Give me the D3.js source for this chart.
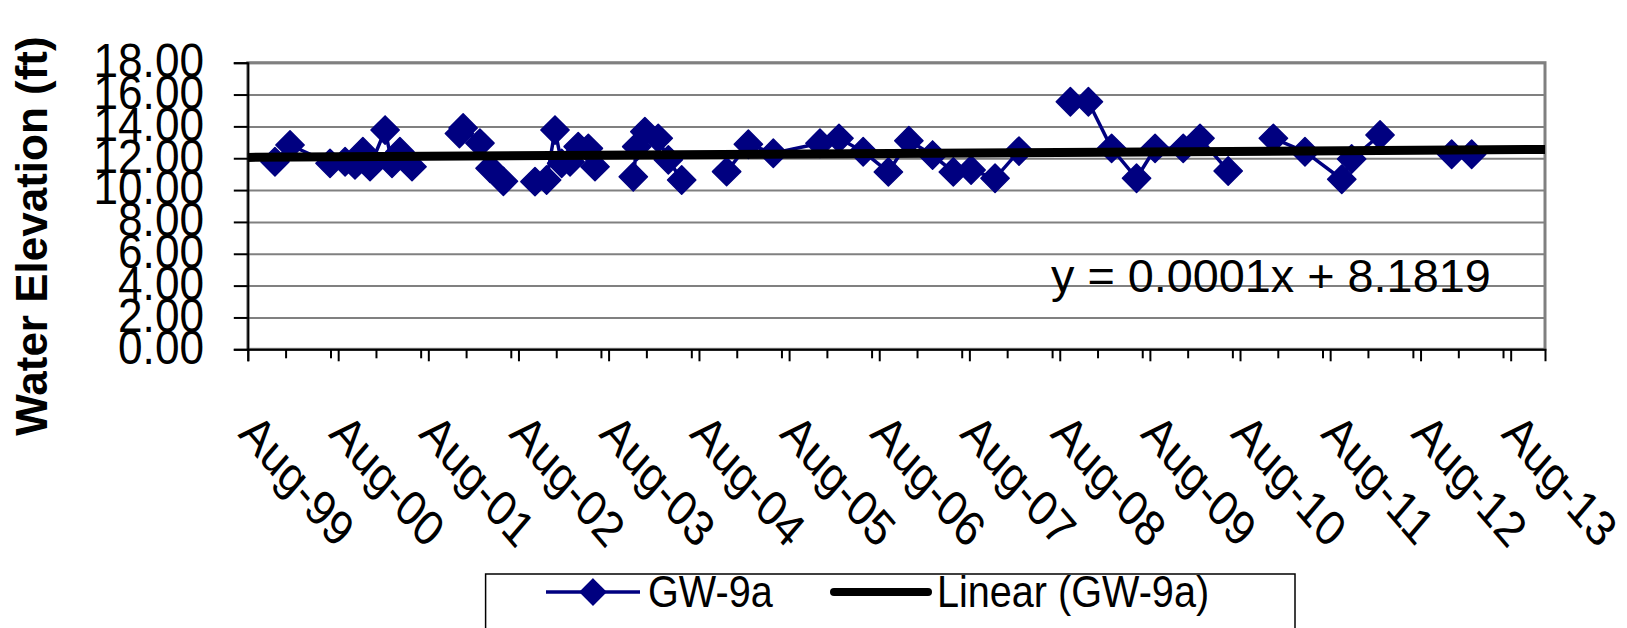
<!DOCTYPE html>
<html><head><meta charset="utf-8">
<script src="https://cdn.jsdelivr.net/npm/d3@7"></script>
<style>
body{margin:0;background:#fff}
svg{display:block}
text{font-family:"Liberation Sans",Arial,sans-serif;fill:#000}
</style>
</head><body>
<svg id="c" width="1627" height="628"></svg>
<script>
// ---------- data ----------
const seriesName = "GW-9a";
const trendName = "Linear (GW-9a)";
const yTitle = "Water Elevation (ft)";
const equationLabel = "y = 0.0001x + 8.1819";

// sample dates (null value = break in the line)
const dates = [
  "1999-11-19","2000-01-19","2000-06-29","2000-08-29","2000-10-08","2000-11-09","2000-12-08",
  "2001-02-07","2001-03-07","2001-04-08","2001-05-27","2001-09-01",
  "2001-12-05","2001-12-20","2002-02-26","2002-04-08","2002-06-01","2002-08-01",
  "2002-10-07","2002-11-23","2002-12-27","2003-01-23","2003-02-26","2003-03-31","2003-05-11","2003-06-07","2003-09-01",
  "2003-11-09","2003-11-23","2003-12-26","2004-02-18","2004-03-30","2004-05-23","2004-08-01",
  "2004-11-21","2005-02-17","2005-05-29","2005-12-04","2006-02-19","2006-05-28","2006-09-07",
  "2006-11-29","2007-03-05","2007-05-28","2007-08-08","2007-11-13","2008-02-18","2008-06-01",
  "2008-09-13","2008-11-25","2009-02-27","2009-06-08","2009-08-22","2009-12-14","2010-02-20","2010-06-14","2010-09-01",
  "2010-12-14","2011-04-21","2011-09-17","2011-10-27","2012-02-19","2012-07-01",
  "2012-12-05","2013-02-24"
];
const values = [
  11.78,12.83,11.68,11.78,11.58,12.41,11.47,
  13.77,11.68,12.41,11.47,null,
  13.55,13.90,12.95,11.37,10.55,null,
  10.53,10.63,13.77,11.68,11.78,12.73,12.62,11.47,null,
  10.84,12.73,13.67,13.25,11.90,10.63,null,
  11.16,12.88,12.31,12.94,13.25,12.41,11.14,
  13.10,12.20,11.14,11.26,10.74,12.45,null,
  15.55,15.55,12.62,10.74,12.62,12.62,13.25,11.20,null,
  13.25,12.41,10.68,11.95,13.46,null,
  12.25,12.25
];

const yTicks = [0,2,4,6,8,10,12,14,16,18];
const xTickDates = ["1999-08-01","2000-08-01","2001-08-01","2002-08-01","2003-08-01","2004-08-01","2005-08-01",
  "2006-08-01","2007-08-01","2008-08-01","2009-08-01","2010-08-01","2011-08-01","2012-08-01","2013-08-01"];
const xTickLabels = ["Aug-99","Aug-00","Aug-01","Aug-02","Aug-03","Aug-04","Aug-05",
  "Aug-06","Aug-07","Aug-08","Aug-09","Aug-10","Aug-11","Aug-12","Aug-13"];
const xDomain = ["1999-08-01","2013-12-18"];
const yDomain = [0,18];

// ---------- layout ----------
const P = {left:247.8, right:1545, top:62.7, bottom:349.3};
const navy = "#000080", gray = "#808080";
const parse = d3.utcParse("%Y-%m-%d");

const svg = d3.select("#c");
const x = d3.scaleUtc().domain(xDomain.map(parse)).range([P.left, P.right]);
const y = d3.scaleLinear().domain(yDomain).range([P.bottom, P.top]);

const pts = dates.map((d,i)=>({d:parse(d), v:values[i]}));
const valid = pts.filter(p=>p.v!=null);

// gridlines
svg.append("g").attr("transform",`translate(${P.left},0)`)
  .call(d3.axisLeft(y).tickValues(yTicks).tickSize(-(P.right-P.left)).tickFormat(""))
  .call(g=>g.select(".domain").remove())
  .call(g=>g.selectAll("line").attr("stroke",gray).attr("stroke-width",2));

// plot border
svg.append("rect").attr("x",P.left).attr("y",P.top).attr("width",P.right-P.left).attr("height",P.bottom-P.top)
  .attr("fill","none").attr("stroke",gray).attr("stroke-width",3);

// y axis
const ya = svg.append("g").attr("transform",`translate(${P.left},0)`)
  .call(d3.axisLeft(y).tickValues(yTicks).tickSize(14).tickPadding(0).tickFormat(d3.format(".2f")));
ya.select(".domain").attr("stroke","#000").attr("stroke-width",2);
ya.selectAll(".tick line").attr("stroke","#000").attr("stroke-width",2);
ya.selectAll(".tick text").attr("x",null).attr("dy","0.35em").attr("text-anchor","end")
  .attr("font-size",48).attr("transform","translate(-43.8,-3) scale(0.92,1)");

// x axis minor ticks
const minor = d3.utcMonth.every(6).range(parse("1999-08-01"), parse("2013-12-18"));
svg.append("g").attr("transform",`translate(0,${P.bottom})`)
  .call(d3.axisBottom(x).tickValues(minor).tickSize(9).tickFormat(""))
  .call(g=>g.select(".domain").remove())
  .call(g=>g.selectAll("line").attr("stroke","#000").attr("stroke-width",2));
// x axis major
const xa = svg.append("g").attr("transform",`translate(0,${P.bottom})`)
  .call(d3.axisBottom(x).tickValues(xTickDates.map(parse)).tickSize(12).tickFormat((d,i)=>xTickLabels[i]));
xa.select(".domain").attr("stroke","#000").attr("stroke-width",2);
xa.selectAll(".tick text").attr("y",null).attr("dy",null).attr("text-anchor","start")
  .attr("font-size",46).attr("transform","translate(-11,86) scale(0.94,1.095) rotate(45)");
xa.selectAll(".tick line").attr("stroke","#000").attr("stroke-width",2);

// y title
svg.append("text").attr("transform","translate(47,236) rotate(-90)")
  .attr("text-anchor","middle").attr("font-size",44).attr("font-weight","bold").text(yTitle);

// series line
const line = d3.line().defined(p=>p.v!=null).x(p=>x(p.d)).y(p=>y(p.v));
svg.append("path").datum(pts).attr("d",line).attr("fill","none").attr("stroke",navy).attr("stroke-width",3.5);

// markers
const diamond = d3.symbol().type(d3.symbolDiamond2).size(510);
svg.append("g").selectAll("path").data(valid).join("path")
  .attr("d",diamond).attr("transform",p=>`translate(${x(p.d)},${y(p.v)})`)
  .attr("fill",navy).attr("stroke",navy).attr("stroke-width",1.5).attr("stroke-linejoin","round");

// linear trend (least squares on data)
const xs = valid.map(p=>+p.d), vs = valid.map(p=>p.v);
const mx = d3.mean(xs), mv = d3.mean(vs);
const slope = d3.sum(xs.map((t,i)=>(t-mx)*(vs[i]-mv))) / d3.sum(xs.map(t=>(t-mx)*(t-mx)));
const icpt = mv - slope*mx;
const [d0,d1] = x.domain();
svg.append("line").attr("x1",x(d0)).attr("x2",x(d1))
  .attr("y1",y(icpt+slope*(+d0))).attr("y2",y(icpt+slope*(+d1)))
  .attr("stroke","#000").attr("stroke-width",9);

// equation
svg.append("text").attr("transform","translate(1051,291.5)")
  .attr("font-size",46.8).text(equationLabel);

// legend
const lg = svg.append("g");
lg.append("rect").attr("x",485.6).attr("y",574).attr("width",1295-485.6).attr("height",80)
  .attr("fill","#fff").attr("stroke","#000").attr("stroke-width",1.5);
lg.append("line").attr("x1",546).attr("x2",640).attr("y1",592).attr("y2",592).attr("stroke",navy).attr("stroke-width",3.5);
lg.append("path").attr("d",d3.symbol().type(d3.symbolDiamond2).size(420)).attr("transform","translate(593,592)")
  .attr("fill",navy).attr("stroke",navy).attr("stroke-width",1.5);
lg.append("text").attr("transform","translate(648,607) scale(0.88,1)").attr("font-size",45).text(seriesName);
lg.append("line").attr("x1",834).attr("x2",928).attr("y1",592).attr("y2",592).attr("stroke","#000")
  .attr("stroke-width",8).attr("stroke-linecap","round");
lg.append("text").attr("transform","translate(937,607) scale(0.88,1)").attr("font-size",45).text(trendName);
</script>
</body></html>
